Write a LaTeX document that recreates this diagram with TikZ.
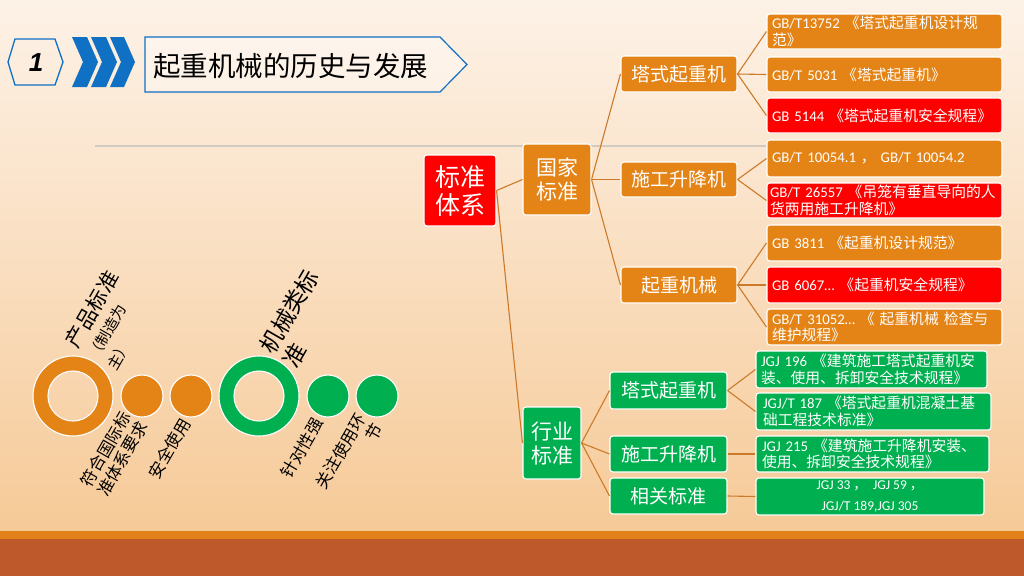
\documentclass[tikz,border=0pt]{standalone}
\usepackage{fontspec}
\setmainfont{Noto Sans CJK SC}
\newfontfamily\latf{Carlito}
\newfontfamily\arialf{Liberation Sans}
\definecolor{bgtop}{HTML}{FDF2E7}
\definecolor{bgbot}{HTML}{F6CA98}
\definecolor{org}{HTML}{E48417}
\definecolor{redc}{HTML}{FF0000}
\definecolor{grn}{HTML}{00B050}
\definecolor{lnc}{HTML}{CC7A2A}
\definecolor{blu}{HTML}{1070C4}
\definecolor{bandc}{HTML}{E3811A}
\definecolor{brownc}{HTML}{BD592B}
\definecolor{grayl}{HTML}{D3CAC0}
\begin{document}
\begin{tikzpicture}[x=1pt,y=-1pt,
  tbox/.style={rounded corners=3pt, draw=white, line width=1.1pt, text=white, inner sep=0pt, align=center},
  midbox/.style={tbox, minimum width=116pt, minimum height=36pt, font=\fontsize{19}{22}\selectfont},
  leafbox/.style={tbox, minimum width=235pt, minimum height=35pt, text width=225pt, align=left, font=\fontsize{14.8}{16.5}\selectfont},
  ileafbox/.style={leafbox, text width=221pt},
  conn/.style={draw=lnc, line width=1.1pt},
  lbl/.style={inner sep=0pt, rotate=60, text=black, align=left},
  chev/.style={fill=blu, draw=none}
]
\useasboundingbox (0,0) rectangle (1024,576);
% background
\shade[top color=bgtop, bottom color=bgbot] (0,0) rectangle (1024,531);
\fill[bandc] (0,531) rectangle (1024,538.5);
\fill[brownc] (0,538.5) rectangle (1024,576);
\draw[grayl, line width=1.5pt] (95,146) -- (1000,146);

% title block
\draw[blu, line width=1.3pt] (8,62) -- (15,39) -- (55,39) -- (63,62) -- (55,85) -- (15,85) -- cycle;
\node[font=\arialf\bfseries\itshape\fontsize{26}{30}\selectfont, inner sep=0pt] (num) at (36,63) {1};
\fill[chev] (72,37) -- (87,37) -- (98,62) -- (87,87) -- (72,87) -- (83,62) -- cycle;
\fill[chev] (91,37) -- (106,37) -- (117,62) -- (106,87) -- (91,87) -- (102,62) -- cycle;
\fill[chev] (110,37) -- (124,37) -- (135,62) -- (124,87) -- (110,87) -- (121,62) -- cycle;
\draw[blu, line width=1.2pt, fill=white, fill opacity=0.35] (145,37) -- (440,37) -- (467,64.5) -- (440,92) -- (145,92) -- cycle;
\node[anchor=west, inner sep=0pt, font=\fontsize{27.5}{30}\selectfont, text=black] (title) at (153,66) {起重机械的历史与发展};

% tree nodes
\node[tbox, fill=redc, minimum width=72pt, minimum height=71pt, font=\fontsize{25}{28}\selectfont] (std) at (460,190.5) {标准\\体系};
\node[tbox, fill=org, minimum width=68pt, minimum height=71pt, font=\fontsize{21}{24}\selectfont] (gj) at (557,179.5) {国家\\标准};
\node[tbox, fill=grn, minimum width=58pt, minimum height=72pt, font=\fontsize{21}{24}\selectfont] (hy) at (552,443) {行业\\标准};

\node[midbox, fill=org] (tz1) at (679,74) {塔式起重机};
\node[midbox, fill=org, minimum height=35pt] (sj1) at (679,179.5) {施工升降机};
\node[midbox, fill=org] (qz) at (679,285) {起重机械};
\node[midbox, fill=grn, minimum width=117pt, minimum height=37pt] (tz2) at (668.5,390.5) {塔式起重机};
\node[midbox, fill=grn, minimum width=117pt] (sj2) at (668.5,454) {施工升降机};
\node[midbox, fill=grn, minimum width=117pt] (xg) at (668.5,496) {相关标准};

\node[leafbox, fill=org] (l1) at (884.5,31.5) {{\latf GB/T13752} 《塔式起重机设计规\\范》};
\node[leafbox, fill=org] (l2) at (884.5,74.5) {{\latf GB/T 5031} 《塔式起重机》};
\node[leafbox, fill=redc] (l3) at (884.5,115.5) {{\latf GB 5144} 《塔式起重机安全规程》};
\node[leafbox, fill=org, minimum height=37pt] (l4) at (884.5,158.5) {{\latf GB/T 10054.1} ， {\latf GB/T 10054.2}};
\node[leafbox, fill=redc, text width=229pt] (l5) at (884.5,200.5) {\mbox{{\latf GB/T 26557} 《吊笼有垂直导向的人}\\货两用施工升降机》};
\node[leafbox, fill=org, minimum height=36pt] (l6) at (884.5,243) {{\latf GB 3811} 《起重机设计规范》};
\node[leafbox, fill=redc, minimum height=36pt] (l7) at (884.5,285) {{\latf GB 6067…} 《起重机安全规程》};
\node[leafbox, fill=org, minimum height=36pt] (l8) at (884.5,327) {{\latf GB/T 31052…} 《 起重机械 检查与\\维护规程》};

\node[ileafbox, fill=grn, minimum width=231pt, minimum height=37pt] (i1) at (871.5,369.5) {{\latf JGJ 196} 《建筑施工塔式起重机安\\装、使用、拆卸安全技术规程》};
\node[ileafbox, fill=grn, minimum width=235pt, minimum height=37pt] (i2) at (873.5,411.5) {{\latf JGJ/T 187} 《塔式起重机混凝土基\\础工程技术标准》};
\node[ileafbox, fill=grn, minimum width=233pt, minimum height=36pt] (i3) at (872.5,454) {{\latf JGJ 215} 《建筑施工升降机安装、\\使用、拆卸安全技术规程》};
\node[tbox, fill=grn, minimum width=228pt, minimum height=37pt, font=\fontsize{13.5}{21}\selectfont] (i4) at (870,496.5) {{\latf JGJ 33} ，\ \ {\latf JGJ 59} ，\\{\latf JGJ/T 189,JGJ 305}};

% connectors
\draw[conn] (std.east) -- (gj.west);
\draw[conn] (std.east) -- (hy.west);
\draw[conn] (gj.east) -- (tz1.west);
\draw[conn] (gj.east) -- (sj1.west);
\draw[conn] (gj.east) -- (qz.west);
\draw[conn] (tz1.east) -- (l1.west);
\draw[conn] (tz1.east) -- (l2.west);
\draw[conn] (tz1.east) -- (l3.west);
\draw[conn] (sj1.east) -- (l4.west);
\draw[conn] (sj1.east) -- (l5.west);
\draw[conn] (qz.east) -- (l6.west);
\draw[conn] (qz.east) -- (l7.west);
\draw[conn] (qz.east) -- (l8.west);
\draw[conn] (hy.east) -- (tz2.west);
\draw[conn] (hy.east) -- (sj2.west);
\draw[conn] (hy.east) -- (xg.west);
\draw[conn] (tz2.east) -- (i1.west);
\draw[conn] (tz2.east) -- (i2.west);
\draw[conn] (sj2.east) -- (i3.west);
\draw[conn] (xg.east) -- (i4.west);

% circles
\fill[org, even odd rule] (73,396) circle (40pt) (73,396) circle (25pt);
\draw[white, line width=1.1pt] (73,396) circle (40pt) (73,396) circle (25pt);
\fill[org, draw=white, line width=1.1pt] (142,396) circle (21pt);
\fill[org, draw=white, line width=1.1pt] (191,396) circle (21pt);
\fill[grn, even odd rule] (259,396) circle (40pt) (259,396) circle (25pt);
\draw[white, line width=1.1pt] (259,396) circle (40pt) (259,396) circle (25pt);
\fill[grn, draw=white, line width=1.1pt] (328,396) circle (21pt);
\fill[grn, draw=white, line width=1.1pt] (377,396) circle (21pt);

% rotated labels
\node[lbl, font=\fontsize{15}{22}\selectfont] (lab1) at (111,320) {{\fontsize{21}{22}\selectfont 产品标准}\\（制造为\\主）};
\node[lbl, font=\fontsize{23}{27}\selectfont] (lab2) at (300.7,318.3) {机械类标\\准};
\node[lbl, font=\fontsize{16.5}{19}\selectfont] (lab3) at (114,454) {符合国际标\\准体系要求};
\node[lbl, font=\fontsize{16.5}{19}\selectfont] (lab4) at (169.5,448.5) {安全使用};
\node[lbl, font=\fontsize{16.5}{19}\selectfont] (lab5) at (302,448) {针对性强};
\node[lbl, align=right, font=\fontsize{16.5}{19}\selectfont] (lab6) at (349,456) {关注使用环\\节};
\end{tikzpicture}
\end{document}
